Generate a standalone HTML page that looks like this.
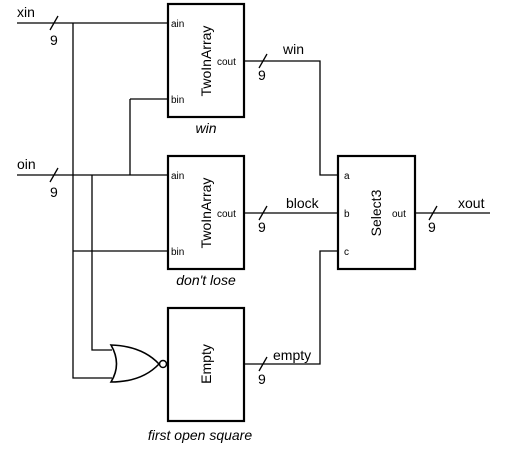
<!DOCTYPE html>
<html><head><style>body{margin:0;background:#fff}svg{display:block}text{font-family:"Liberation Sans",sans-serif;fill:#000}</style></head><body>
<svg width="508" height="452" viewBox="0 0 508 452" xmlns="http://www.w3.org/2000/svg">
<g stroke="#000" stroke-width="1.3" fill="none">
<path d="M17 23H168M17 175H168M73 23V378H112M130 99V175M130 99H168M92 175V350H112M73 251H168"/>
<path d="M244 61H320V175H338M244 213H338M244 364H320V251H338M415 213H490"/>
<path d="M50 30L58 16M50 182L58 168M259 68L267 54M259 220L267 206M259 371L267 357M429 220L437 206"/>
</g>
<g stroke="#000" stroke-width="2.2" fill="none">
<rect x="168" y="4" width="76" height="113"/>
<rect x="168" y="156" width="76" height="113"/>
<rect x="168" y="308" width="76" height="113"/>
<rect x="338" y="156" width="77" height="113"/>
<path d="M111 345Q122 364 111 382Q142 382 159 364Q142 346 111 345Z" stroke-width="1.6"/>
<circle cx="163" cy="364" r="3.5" stroke-width="1.5"/>
</g>
<g font-size="14">
<text x="17" y="17">xin</text><text x="17" y="169">oin</text>
<text x="50" y="45">9</text><text x="50" y="197">9</text>
<text x="258" y="80">9</text><text x="258" y="232">9</text><text x="258" y="384">9</text><text x="428" y="232">9</text>
<text x="283" y="54">win</text><text x="286" y="208">block</text><text x="273" y="360">empty</text><text x="458" y="208">xout</text>
</g>
<g font-size="10">
<text x="171" y="27">ain</text><text x="171" y="103">bin</text><text x="217" y="65">cout</text>
<text x="171" y="179">ain</text><text x="171" y="255">bin</text><text x="217" y="217">cout</text>
<text x="344" y="179">a</text><text x="344" y="217">b</text><text x="344" y="255">c</text><text x="392" y="217">out</text>
</g>
<g font-size="14">
<text transform="translate(211 61) rotate(-90)" text-anchor="middle">TwoInArray</text>
<text transform="translate(211 213) rotate(-90)" text-anchor="middle">TwoInArray</text>
<text transform="translate(211 364) rotate(-90)" text-anchor="middle">Empty</text>
<text transform="translate(381 213) rotate(-90)" text-anchor="middle">Select3</text>
</g>
<g font-size="14" font-style="italic" text-anchor="middle">
<text x="206" y="133">win</text><text x="206" y="285">don't lose</text><text x="200" y="440">first open square</text>
</g>
</svg>
</body></html>
